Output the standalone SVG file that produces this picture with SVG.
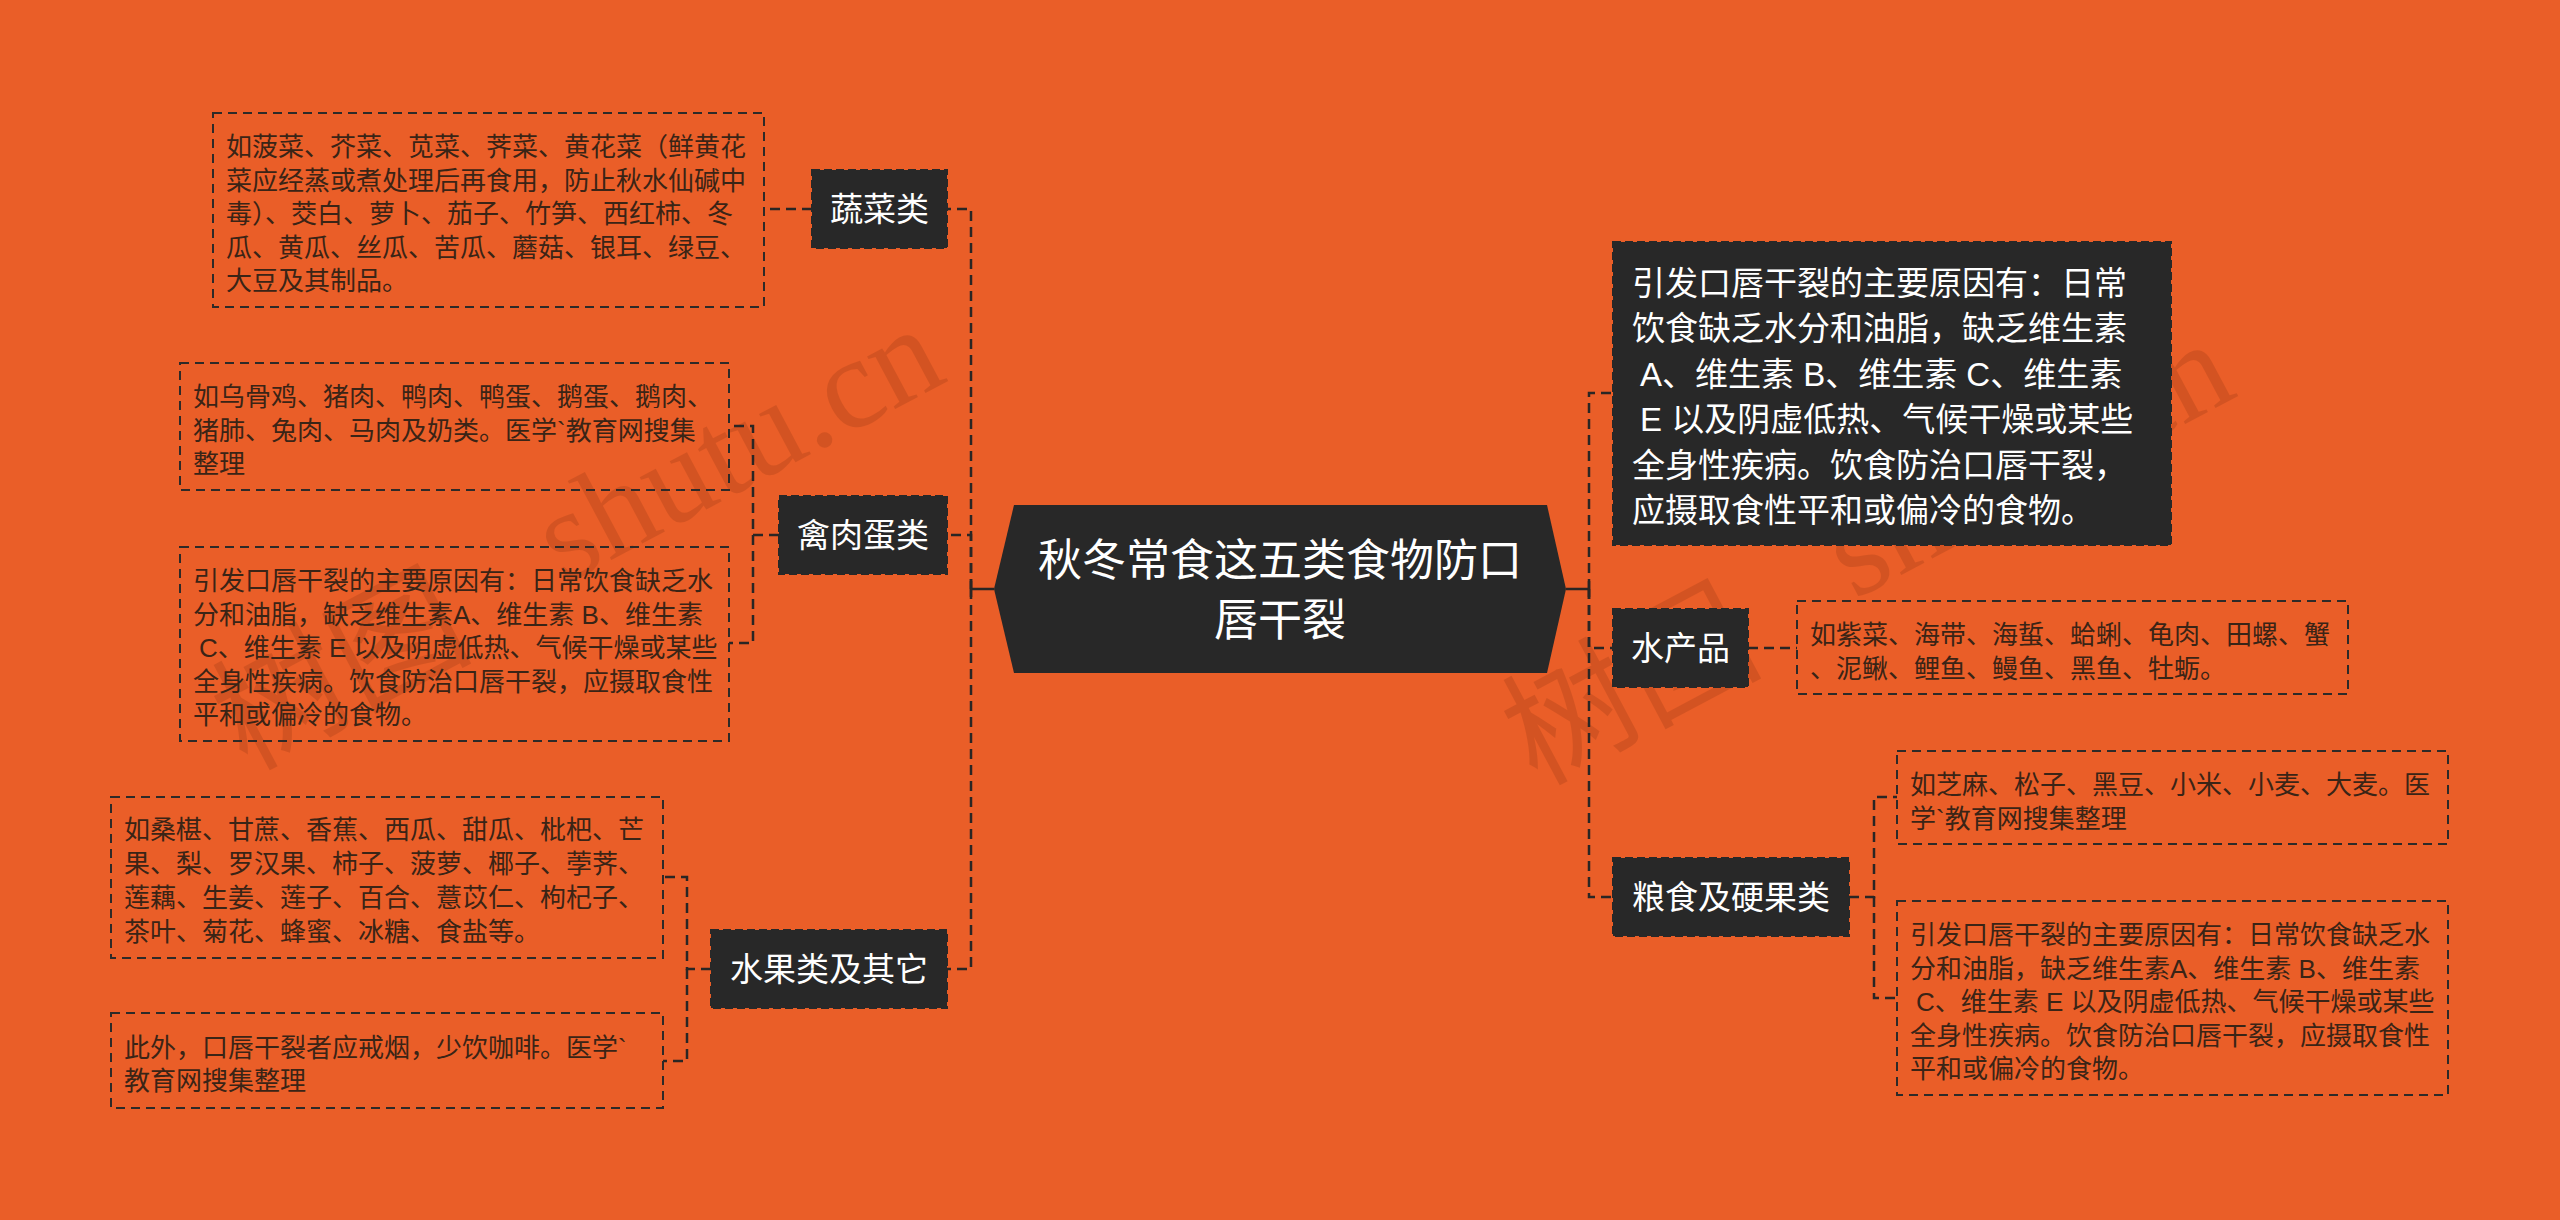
<svg xmlns="http://www.w3.org/2000/svg" width="2560" height="1220" viewBox="0 0 2560 1220">
<style>
.bg{fill:#EA5E28}
.leaf rect{fill:none;stroke:#2e2a28;stroke-width:2;stroke-dasharray:9 6}
.leaf text{font-family:'Liberation Sans','Noto Sans CJK SC',sans-serif;font-size:26px;fill:#3a2416;dominant-baseline:central}
.branch rect{fill:#282828;stroke:#282828;stroke-width:2;stroke-dasharray:8 4}
.branch text{font-family:'Liberation Sans','Noto Sans CJK SC',sans-serif;font-size:33px;fill:#ffffff;dominant-baseline:central;text-anchor:middle}
.branch.big text{text-anchor:start}
.root text{font-family:'Liberation Sans','Noto Sans CJK SC',sans-serif;font-size:44px;fill:#ffffff;dominant-baseline:central;text-anchor:middle}
.conn path{fill:none;stroke:#2a2624;stroke-width:2.5;stroke-dasharray:10 6}
.conn .solid{stroke-dasharray:none}
.wm{font-family:'Liberation Serif','Noto Sans CJK SC',serif;font-size:130px;fill:#7a2c0c;opacity:0.2}
</style>
<rect class="bg" x="0" y="0" width="2560" height="1220"/>

<g id="watermark">
  <g transform="translate(950,380) rotate(-28)">
    <text class="wm" text-anchor="end"><tspan x="-545" y="15">树图</tspan><tspan x="0" y="0">shutu.cn</tspan></text>
  </g>
  <g transform="translate(2240,395) rotate(-28)">
    <text class="wm" text-anchor="end"><tspan x="-545" y="15">树图</tspan><tspan x="0" y="0">shutu.cn</tspan></text>
  </g>
</g>

<g id="connectors" class="conn">
  <path class="solid" d="M994,589 H971 M971,581 V597"/>
  <path d="M971,589 V209 H947"/>
  <path d="M971,589 V535 H947"/>
  <path d="M971,589 V969 H947"/>
  <path d="M812,209 H764"/>
  <path d="M779,535 H753 V426 H729"/>
  <path d="M753,535 V643 H729"/>
  <path d="M711,969 H687 V877 H663"/>
  <path d="M687,969 V1061 H663"/>
  <path class="solid" d="M1566,589 H1589 M1589,581 V597"/>
  <path d="M1589,589 V393 H1613"/>
  <path d="M1589,589 V648 H1613"/>
  <path d="M1589,589 V897 H1613"/>
  <path d="M1748,648 H1797"/>
  <path d="M1849,897 H1874 V797 H1897"/>
  <path d="M1874,897 V998 H1897"/>
</g>

<g id="root" class="root">
  <polygon points="994,589 1014,505 1547,505 1566,589 1547,673 1014,673" fill="#282828"/>
  <text x="1280" y="560">秋冬常食这五类食物防口</text>
  <text x="1280" y="620">唇干裂</text>
</g>

<g id="n-shucai" class="branch">
  <rect x="812" y="170" width="135" height="78"/>
  <text x="879.5" y="209">蔬菜类</text>
</g>
<g id="n-qinrou" class="branch">
  <rect x="779" y="496" width="168" height="78"/>
  <text x="863" y="535">禽肉蛋类</text>
</g>
<g id="n-shuiguo" class="branch">
  <rect x="711" y="930" width="236" height="78"/>
  <text x="829" y="969">水果类及其它</text>
</g>
<g id="n-shuichan" class="branch">
  <rect x="1613" y="609" width="135" height="78"/>
  <text x="1680.5" y="648">水产品</text>
</g>
<g id="n-liangshi" class="branch">
  <rect x="1613" y="858" width="236" height="78"/>
  <text x="1731" y="897">粮食及硬果类</text>
</g>

<g id="n-yuanyin" class="branch big">
  <rect x="1613" y="242" width="558" height="303"/>
  <text x="1632" y="283">引发口唇干裂的主要原因有：日常</text>
  <text x="1632" y="328.5">饮食缺乏水分和油脂，缺乏维生素</text>
  <text x="1640" y="374">A、维生素 B、维生素 C、维生素</text>
  <text x="1640" y="419.5">E 以及阴虚低热、气候干燥或某些</text>
  <text x="1632" y="465">全身性疾病。饮食防治口唇干裂，</text>
  <text x="1632" y="510.5">应摄取食性平和或偏冷的食物。</text>
</g>

<g id="leaf-shucai" class="leaf">
  <rect x="213" y="113" width="551" height="194"/>
  <text x="226" y="147">如菠菜、芥菜、苋菜、荠菜、黄花菜（鲜黄花</text>
  <text x="226" y="180.5">菜应经蒸或煮处理后再食用，防止秋水仙碱中</text>
  <text x="226" y="214">毒）、茭白、萝卜、茄子、竹笋、西红柿、冬</text>
  <text x="226" y="247.5">瓜、黄瓜、丝瓜、苦瓜、蘑菇、银耳、绿豆、</text>
  <text x="226" y="281">大豆及其制品。</text>
</g>

<g id="leaf-qinrou-1" class="leaf">
  <rect x="180" y="363" width="549" height="127"/>
  <text x="193" y="397">如乌骨鸡、猪肉、鸭肉、鸭蛋、鹅蛋、鹅肉、</text>
  <text x="193" y="430.5">猪肺、兔肉、马肉及奶类。医学`教育网搜集</text>
  <text x="193" y="464">整理</text>
</g>

<g id="leaf-qinrou-2" class="leaf">
  <rect x="180" y="547" width="549" height="194"/>
  <text x="193" y="581">引发口唇干裂的主要原因有：日常饮食缺乏水</text>
  <text x="193" y="614.5">分和油脂，缺乏维生素A、维生素 B、维生素</text>
  <text x="199" y="648">C、维生素 E 以及阴虚低热、气候干燥或某些</text>
  <text x="193" y="681.5">全身性疾病。饮食防治口唇干裂，应摄取食性</text>
  <text x="193" y="715">平和或偏冷的食物。</text>
</g>

<g id="leaf-shuiguo-1" class="leaf">
  <rect x="111" y="797" width="552" height="161"/>
  <text x="124" y="830">如桑椹、甘蔗、香蕉、西瓜、甜瓜、枇杷、芒</text>
  <text x="124" y="864">果、梨、罗汉果、柿子、菠萝、椰子、荸荠、</text>
  <text x="124" y="898">莲藕、生姜、莲子、百合、薏苡仁、枸杞子、</text>
  <text x="124" y="931.5">茶叶、菊花、蜂蜜、冰糖、食盐等。</text>
</g>

<g id="leaf-shuiguo-2" class="leaf">
  <rect x="111" y="1013" width="552" height="95"/>
  <text x="124" y="1047.5">此外，口唇干裂者应戒烟，少饮咖啡。医学`</text>
  <text x="124" y="1081">教育网搜集整理</text>
</g>

<g id="leaf-shuichan" class="leaf">
  <rect x="1797" y="601" width="551" height="93"/>
  <text x="1810" y="635">如紫菜、海带、海蜇、蛤蜊、龟肉、田螺、蟹</text>
  <text x="1810" y="668.5">、泥鳅、鲤鱼、鳗鱼、黑鱼、牡蛎。</text>
</g>

<g id="leaf-liangshi-1" class="leaf">
  <rect x="1897" y="751" width="551" height="93"/>
  <text x="1910" y="785">如芝麻、松子、黑豆、小米、小麦、大麦。医</text>
  <text x="1910" y="818.5">学`教育网搜集整理</text>
</g>

<g id="leaf-liangshi-2" class="leaf">
  <rect x="1897" y="901" width="551" height="194"/>
  <text x="1910" y="935">引发口唇干裂的主要原因有：日常饮食缺乏水</text>
  <text x="1910" y="968.5">分和油脂，缺乏维生素A、维生素 B、维生素</text>
  <text x="1916" y="1002">C、维生素 E 以及阴虚低热、气候干燥或某些</text>
  <text x="1910" y="1035.5">全身性疾病。饮食防治口唇干裂，应摄取食性</text>
  <text x="1910" y="1069">平和或偏冷的食物。</text>
</g>
</svg>
